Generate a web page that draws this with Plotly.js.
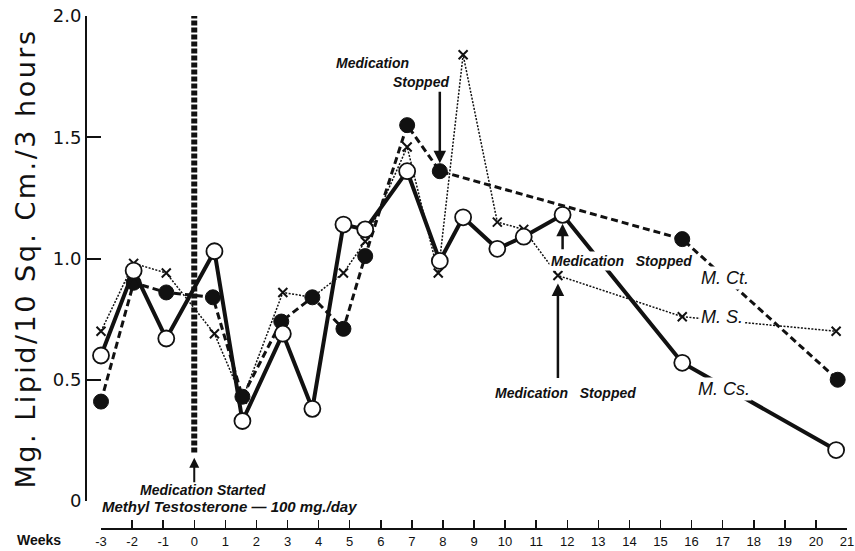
<!DOCTYPE html>
<html>
<head>
<meta charset="utf-8">
<script src="https://cdn.plot.ly/plotly-3.0.1.min.js"></script>
<style>
html,body{margin:0;padding:0;background:#fff;}
#chart{width:855px;height:551px;}
.ytitle{letter-spacing:2.5px;}
</style>
</head>
<body>
<div id="chart"></div>
<script>
// ---- Data ----
const weeksCs  = [-3, -1.95, -0.9, 0.65, 1.55, 2.85, 3.8, 4.8, 5.5, 6.85, 7.9, 8.65, 9.75, 10.6, 11.85, 15.7, 20.65];
const valuesCs = [0.60, 0.95, 0.67, 1.03, 0.33, 0.69, 0.38, 1.14, 1.12, 1.36, 0.99, 1.17, 1.04, 1.09, 1.18, 0.57, 0.21];

const weeksCt  = [-3, -1.95, -0.9, 0.6, 1.55, 2.8, 3.8, 4.8, 5.5, 6.85, 7.9, 15.7, 20.7];
const valuesCt = [0.41, 0.90, 0.86, 0.84, 0.43, 0.74, 0.84, 0.71, 1.01, 1.55, 1.36, 1.08, 0.50];

const weeksS   = [-3, -1.95, -0.9, 0.65, 1.55, 2.85, 3.8, 4.8, 5.5, 6.85, 7.85, 8.65, 9.75, 10.6, 11.7, 15.7, 20.65];
const valuesS  = [0.70, 0.98, 0.94, 0.69, 0.42, 0.86, 0.84, 0.94, 1.07, 1.46, 0.94, 1.84, 1.15, 1.12, 0.93, 0.76, 0.70];

const xTickVals = [-3,-2,-1,0,1,2,3,4,5,6,7,8,9,10,11,12,13,14,15,16,17,18,19,20,21];
const xTickText = ['-3','-2','-1','0','1','2','3','4','5','6','7','8','9','10','11','12','13','14','15','16','17','18','19','20','21'];
const yTickVals = [0, 0.5, 1, 1.5, 2];
const yTickText = ['0', '0.5', '1.0', '1.5', '2.0'];

const medStartWeek = 0;
const stopCtIdx = 10;   // M.Ct. point where medication stopped
const stopCsIdx = 14;   // M.Cs. point
const stopSIdx  = 14;   // M.S. point

const FONT = 'Liberation Sans, Arial, sans-serif';

const traces = [
  {
    name: 'M. S.', x: weeksS, y: valuesS, type: 'scatter', mode: 'lines+markers',
    line: {color: '#111', width: 1.5, dash: '2px,1.5px'},
    marker: {symbol: 'x-thin', size: 9, color: '#111', line: {color: '#111', width: 2}},
    cliponaxis: false
  },
  {
    name: 'M. Ct.', x: weeksCt, y: valuesCt, type: 'scatter', mode: 'lines+markers',
    line: {color: '#111', width: 3, dash: '7px,4px'},
    marker: {symbol: 'circle', size: 15, color: '#111', line: {color: '#111', width: 1}},
    cliponaxis: false
  },
  {
    name: 'M. Cs.', x: weeksCs, y: valuesCs, type: 'scatter', mode: 'lines+markers',
    line: {color: '#111', width: 4},
    marker: {symbol: 'circle', size: 16, color: '#fff', line: {color: '#111', width: 1.8}},
    cliponaxis: false
  }
];

const italic = (size) => ({family: FONT, size: size, color: '#111', style: 'italic', weight: 'bold'});
const seriesFont = {family: FONT, size: 18, color: '#111', style: 'italic'};

const annotations = [
  // series labels
  {x: 17.08, y: 0.92, xref: 'x', yref: 'y', text: 'M. Ct.', showarrow: false, bgcolor: '#fff', font: seriesFont},
  {x: 16.98, y: 0.76, xref: 'x', yref: 'y', text: 'M. S.', showarrow: false, bgcolor: '#fff', font: seriesFont},
  {x: 17.05, y: 0.46, xref: 'x', yref: 'y', text: 'M. Cs.', showarrow: false, bgcolor: '#fff', font: seriesFont},
  // Medication stopped texts
  {x: 5.75, y: 1.806, xref: 'x', yref: 'y', text: 'Medication', showarrow: false, font: italic(14)},
  {x: 7.30, y: 1.727, xref: 'x', yref: 'y', text: 'Stopped', showarrow: false, font: italic(14)},
  {x: 13.73, y: 0.988, xref: 'x', yref: 'y', text: 'Medication\u00a0\u00a0\u00a0Stopped', showarrow: false,
   bgcolor: '#fff', font: italic(14)},
  {x: 11.93, y: 0.446, xref: 'x', yref: 'y', text: 'Medication\u00a0\u00a0\u00a0Stopped', showarrow: false, font: italic(14)},
  // arrows
  {x: weeksCt[stopCtIdx], y: valuesCt[stopCtIdx], xref: 'x', yref: 'y', text: '', showarrow: true,
   ax: 0, ay: -81, arrowhead: 2, arrowsize: 1, arrowwidth: 2.5, arrowcolor: '#111', standoff: 8},
  {x: weeksCs[stopCsIdx], y: valuesCs[stopCsIdx], xref: 'x', yref: 'y', text: '', showarrow: true,
   ax: 0, ay: 36, arrowhead: 2, arrowsize: 1, arrowwidth: 2.5, arrowcolor: '#111', standoff: 9},
  {x: weeksS[stopSIdx], y: valuesS[stopSIdx], xref: 'x', yref: 'y', text: '', showarrow: true,
   ax: 0, ay: 104, arrowhead: 2, arrowsize: 1, arrowwidth: 2.5, arrowcolor: '#111', standoff: 8},
  // medication started
  {x: medStartWeek, y: 0.178, xref: 'x', yref: 'y', text: '', showarrow: true,
   ax: 0, ay: 26, arrowhead: 2, arrowsize: 1, arrowwidth: 2, arrowcolor: '#111', standoff: 0},
  {x: 0.28, y: 0.045, xref: 'x', yref: 'y', text: 'Medication Started', showarrow: false,
   xanchor: 'center', yanchor: 'middle', font: italic(14)},
  {x: 1.12, y: 0.0448, xref: 'x', yref: 'paper', text: 'Methyl Testosterone \u2014 100 mg./day', showarrow: false,
   xanchor: 'center', yanchor: 'middle', font: italic(15)},
  // Weeks label
  {x: -0.0616, y: -0.0214, xref: 'paper', yref: 'paper', text: 'Weeks', showarrow: false,
   xanchor: 'center', yanchor: 'middle',
   font: {family: FONT, size: 14, color: '#111', weight: 'bold'}}
];

const layout = {
  width: 855, height: 551,
  margin: {l: 86, r: 6, t: 16, b: 22},
  paper_bgcolor: '#fff', plot_bgcolor: '#fff',
  showlegend: false,
  xaxis: {
    domain: [15/763, 761/763], range: [-3, 21],
    anchor: 'free', position: 0,
    tickmode: 'array', tickvals: xTickVals, ticktext: xTickText,
    ticks: 'inside', ticklen: 8, tickwidth: 1.5, tickcolor: '#111',
    showline: true, linewidth: 2, linecolor: '#111',
    showgrid: false, zeroline: false,
    tickfont: {family: FONT, size: 13, color: '#111'}
  },
  yaxis: {
    domain: [28/513, 1], range: [0, 2],
    anchor: 'free', position: 0,
    tickmode: 'array', tickvals: yTickVals, ticktext: yTickText,
    ticks: 'inside', ticklen: 14, tickwidth: 2, tickcolor: '#111',
    showline: true, linewidth: 2, linecolor: '#111',
    showgrid: false, zeroline: false,
    tickfont: {family: 'DejaVu Sans, sans-serif', size: 18, color: '#111'},
    title: {text: 'Mg. Lipid/10 Sq. Cm./3 hours', standoff: 8,
            font: {family: 'DejaVu Sans, sans-serif', size: 27, color: '#111'}}
  },
  shapes: [
    {type: 'line', xref: 'x', yref: 'y', x0: medStartWeek, x1: medStartWeek, y0: 0.2, y1: 2.0,
     line: {color: '#111', width: 6, dash: '5px,2px'}}
  ],
  annotations: annotations
};

Plotly.newPlot('chart', traces, layout, {staticPlot: true, displayModeBar: false});
</script>
</body>
</html>
